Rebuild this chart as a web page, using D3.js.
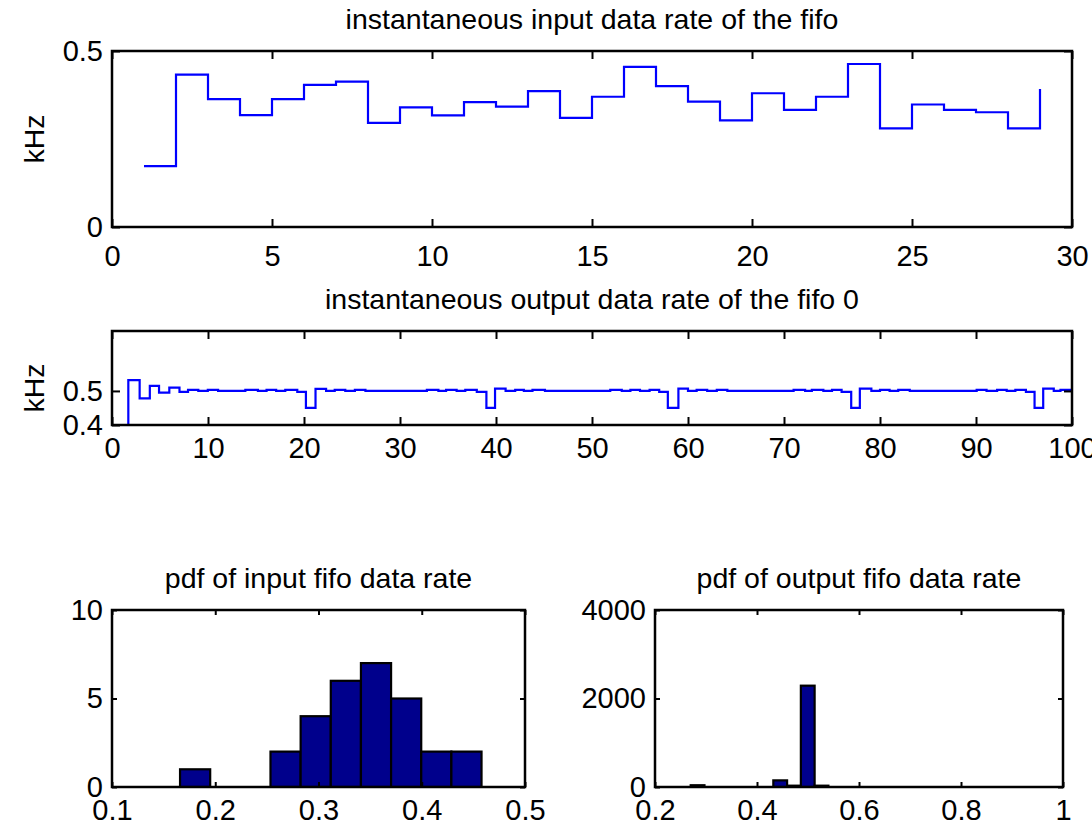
<!DOCTYPE html>
<html><head><meta charset="utf-8">
<script src="https://cdn.jsdelivr.net/npm/d3@7"></script>
<style>
body{margin:0;background:#fff}
text{font-family:"Liberation Sans",Arial,Helvetica,sans-serif;fill:#000}
</style>
</head><body>
<svg id="c" width="1092" height="826"></svg>
<script>
// ---------- data ----------
const inX = [1,2,3,4,5,6,7,8,9,10,11,12,13,14,15,16,17,18,19,20,21,22,23,24,25,26,27,28,29];
const inRate = [0.173,0.433,0.363,0.318,0.363,0.404,0.413,0.296,0.340,0.317,0.355,0.342,0.386,0.310,0.370,
                0.455,0.400,0.356,0.303,0.380,0.333,0.370,0.463,0.280,0.348,0.333,0.326,0.280,0.392];

const outX = [1.7,1.7,2.88,3.94,4.9,5.97,7.03,7.92,8.99,9.98,11.05,13.89,15.2,16.1,17.1,18.05,19.3,20.2,21.2,22.3,23.2,24.3,25.3,26.4,
              32.8,34.0,34.8,35.9,36.8,38.0,39.0,39.9,41.0,42.0,42.9,43.8,45.1,
              51.9,53.1,54.0,55.0,56.0,57.0,57.9,59.0,60.0,60.9,62.0,63.0,64.1,
              71.0,72.2,72.9,74.1,75.0,76.0,77.0,77.9,79.1,80.0,81.0,81.9,83.1,
              90.07,91.1,92.2,93.2,94.1,95.2,96.1,97.0,98.1,98.8,100];
const outRate = [0.28,0.532,0.478,0.515,0.495,0.510,0.497,0.503,0.500,0.503,0.500,0.503,0.500,0.503,0.500,0.503,0.497,0.450,0.506,0.500,0.503,0.500,0.503,0.500,
                 0.503,0.500,0.503,0.500,0.503,0.497,0.450,0.507,0.500,0.503,0.500,0.503,0.500,
                 0.503,0.500,0.503,0.500,0.503,0.497,0.450,0.507,0.500,0.503,0.500,0.503,0.500,
                 0.503,0.500,0.503,0.500,0.503,0.497,0.450,0.507,0.500,0.503,0.500,0.503,0.500,
                 0.503,0.500,0.503,0.500,0.503,0.497,0.450,0.507,0.500,0.503,0.503];

const inHistCenters = [0.1805,0.2097,0.2389,0.2681,0.2973,0.3265,0.3557,0.3849,0.4141,0.4433];
const inHistCounts  = [1,0,0,2,4,6,7,5,2,2];
const outHistCenters = [0.2835,0.3105,0.3375,0.3645,0.3915,0.4185,0.4455,0.4725,0.4995,0.5265];
const outHistCounts  = [40,0,0,0,0,0,150,30,2290,30];

const topXTicks = [0,5,10,15,20,25,30];
const topYTicks = [0,0.5];
const midXTicks = [0,10,20,30,40,50,60,70,80,90,100];
const midYTicks = [0.4,0.5];
const blXTicks = [0.1,0.2,0.3,0.4,0.5];
const blYTicks = [0,5,10];
const brXTicks = [0.2,0.4,0.6,0.8,1];
const brYTicks = [0,2000,4000];

const titles = ["instantaneous input data rate of the fifo",
                "instantaneous output data rate of the fifo 0",
                "pdf of input fifo data rate",
                "pdf of output fifo data rate"];
const yLabel = "kHz";

// ---------- drawing ----------
const svg = d3.select("#c");
const FS = 29, TFS = 28.5;
const BLUE = "#0000ff", NAVY = "#00008c";

function panel(o){
  const g = svg.append("g");
  const x = d3.scaleLinear().domain(o.xd).range([o.l,o.r]);
  const y = d3.scaleLinear().domain(o.yd).range([o.b,o.t]);
  const id = "clip"+Math.round(o.l)+"_"+Math.round(o.t);
  svg.append("clipPath").attr("id",id).append("rect")
     .attr("x",o.l).attr("y",o.t).attr("width",o.r-o.l).attr("height",o.b-o.t);
  const plot = g.append("g").attr("clip-path","url(#"+id+")");
  const tl = o.tick;
  const ax = [
    [d3.axisBottom(x).tickValues(o.xt).tickSize(-tl).tickPadding(o.xpad).tickFormat(d3.format("")), `translate(0,${o.b})`],
    [d3.axisTop(x).tickValues(o.xt).tickSize(-tl).tickFormat(""), `translate(0,${o.t})`],
    [d3.axisLeft(y).tickValues(o.yt).tickSize(-tl).tickPadding(9).tickFormat(d3.format("")), `translate(${o.l},0)`],
    [d3.axisRight(y).tickValues(o.yt).tickSize(-tl).tickFormat(""), `translate(${o.r},0)`]
  ];
  ax.forEach(([a,tr])=>{
    const ag = g.append("g").attr("transform",tr).call(a);
    ag.select(".domain").remove();
    ag.selectAll("line").attr("stroke","#000").attr("stroke-width",2);
    ag.selectAll("text").attr("font-size",FS).attr("font-family",'"Liberation Sans",Arial,sans-serif')
      .attr("fill","#000");
  });
  o.draw(plot,x,y);
  g.append("rect").attr("x",o.l).attr("y",o.t).attr("width",o.r-o.l).attr("height",o.b-o.t)
    .attr("fill","none").attr("stroke","#000").attr("stroke-width",2.5);
  g.append("text").attr("x",(o.l+o.r)/2).attr("y",o.t-22)
    .attr("text-anchor","middle").attr("font-size",TFS).text(o.title);
  if(o.ylab){
    g.append("text").attr("transform",`translate(${o.ylx},${(o.t+o.b)/2+(o.ydy||0)}) rotate(-90)`)
      .attr("text-anchor","middle").attr("font-size",TFS).text(o.ylab);
  }
  return {x,y};
}

const stair = (x,y)=> d3.line().x(d=>x(d[0])).y(d=>y(d[1])).curve(d3.curveStepAfter);

panel({l:112,r:1072,t:51,b:227,xd:[0,30],yd:[0,0.5],xt:topXTicks,yt:topYTicks,tick:8,xpad:18,
  title:titles[0],ylab:yLabel,ylx:44,
  draw:(p,x,y)=>{
    p.append("path").attr("d",stair(x,y)(d3.zip(inX,inRate)))
     .attr("fill","none").attr("stroke",BLUE).attr("stroke-width",2.2);
  }});
panel({l:112,r:1072,t:331,b:425,xd:[0,100],yd:[0.4,0.676],xt:midXTicks,yt:midYTicks,tick:8,xpad:12,
  title:titles[1],ylab:yLabel,ylx:44,ydy:10,
  draw:(p,x,y)=>{
    p.append("path").attr("d",stair(x,y)(d3.zip(outX,outRate)))
     .attr("fill","none").attr("stroke",BLUE).attr("stroke-width",2.2);
  }});
function hist(centers,counts){
  return (p,x,y)=>{
    const w = centers[1]-centers[0];
    p.selectAll("rect.bar").data(d3.zip(centers,counts)).join("rect").attr("class","bar")
      .attr("x",d=>x(d[0]-w/2)).attr("width",d=>x(d[0]+w/2)-x(d[0]-w/2))
      .attr("y",d=>y(d[1])).attr("height",d=>y(0)-y(d[1]))
      .attr("fill",NAVY).attr("stroke","#000").attr("stroke-width",2.2);
  };
}
panel({l:112,r:525,t:610,b:787,xd:[0.1,0.5],yd:[0,10],xt:blXTicks,yt:blYTicks,tick:5,xpad:12,
  title:titles[2],draw:hist(inHistCenters,inHistCounts)});
panel({l:655,r:1063,t:610,b:787,xd:[0.2,1],yd:[0,4000],xt:brXTicks,yt:brYTicks,tick:5,xpad:12,
  title:titles[3],draw:hist(outHistCenters,outHistCounts)});
</script>
</body></html>
